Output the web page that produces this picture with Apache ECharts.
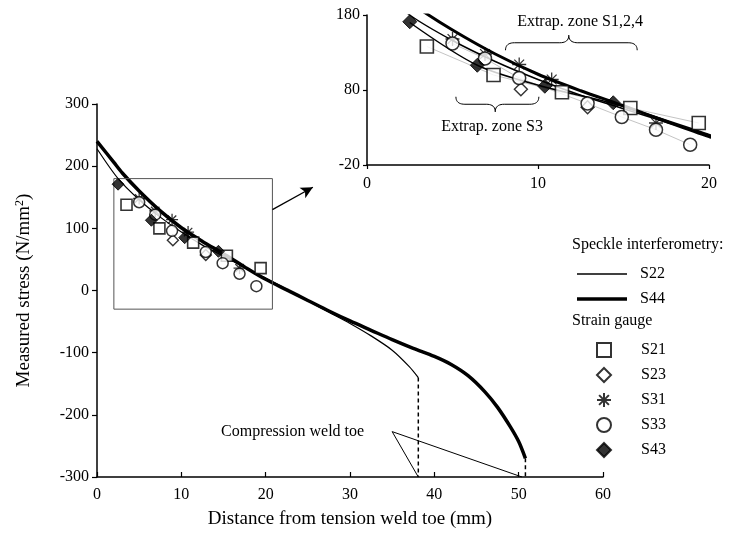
<!DOCTYPE html>
<html>
<head>
<meta charset="utf-8">
<script src="https://cdn.jsdelivr.net/npm/echarts@6/dist/echarts.min.js"></script>
<style>
html, body { margin: 0; padding: 0; background: #fff; }
#chart { width: 737px; height: 541px; }
</style>
</head>
<body>
<div id="chart"></div>
<script>
// speckle interferometry curves [x mm, stress N/mm2]
var s44 = [[0, 240], [2, 206], [3, 189], [5, 160], [7.5, 128], [10, 101], [12.5, 79], [15, 59], [17.5, 38], [20, 18],
    [22.5, 1], [25, -16], [27.5, -33], [30, -49], [32.5, -64], [35, -79], [37.5, -93], [40, -106], [42, -119],
    [44, -137], [46, -163], [47.5, -188], [49, -219], [50, -243], [50.8, -270]];
var s22 = [[0, 228], [2.5, 180], [5, 146], [7.5, 118], [10, 94], [12.5, 73], [15, 55], [17.5, 37], [20, 20],
    [22.5, 2], [25, -17], [27.5, -35], [30, -53], [32.5, -73], [35, -96], [37, -122], [38.1, -140]];

// strain gauges
var s21 = [[3.5, 138], [7.4, 100], [11.4, 77], [15.4, 56], [19.4, 36]];
var s23 = [[9.0, 81], [12.9, 57]];
var s31 = [[5.0, 148], [6.9, 128], [8.9, 114], [10.8, 94], [16.9, 36]];
var s33 = [[5.0, 142], [6.9, 122], [8.9, 96], [12.9, 62], [14.9, 44], [16.9, 27], [18.9, 7]];
var s43 = [[2.5, 171], [6.45, 113], [10.4, 85], [14.4, 63]];
// fitted line through S43 shown in the zoomed plot
var s43Fit = [[2.5, 170], [6.45, 113], [10.4, 84], [14.4, 62], [20.1, 20]];

// annotations
var weldToe22 = [[38.1, -140], [38.1, -300]];
var weldToe44 = [[50.8, -270], [50.8, -300]];
var toeLeader = [[38.1, -300], [35, -227], [50.4, -300]];
var zoomBox = [[2, -30], [20.8, -30], [20.8, 180], [2, 180], [2, -30]];
var arrowFrom = [20.8, 130];
var arrowTo = [25.6, 166];

var mainXTicks = { min: 0, max: 60, step: 10 };
var mainYTicks = { min: -300, max: 300, step: 100 };
var insetYTicks = [-20, 80, 180];
var insetXTicks = [0, 10, 20];

var FONT = 'Liberation Serif';
var chart = echarts.init(document.getElementById('chart'));

function axisBase(extra) {
    var a = {
        type: 'value',
        axisLine: { onZero: false, lineStyle: { color: '#000', width: 1.5 } },
        axisTick: { lineStyle: { color: '#000', width: 1.2 }, length: 5 },
        axisLabel: { color: '#000', fontFamily: FONT, fontSize: 16 },
        splitLine: { show: false }
    };
    return Object.assign(a, extra);
}

var asterisk = 'path://M10 0 L10 20 M0 10 L20 10 M3 3 L17 17 M3 17 L17 3';
var gaugeStyles = {
    S21: { symbol: 'rect', itemStyle: { color: '#fff', borderColor: '#000', borderWidth: 1.6 }, size: 12 },
    S23: { symbol: 'diamond', itemStyle: { color: '#fff', borderColor: '#000', borderWidth: 1.4 }, size: 12 },
    S31: { symbol: asterisk, itemStyle: { color: 'rgba(0,0,0,0)', borderColor: '#000', borderWidth: 1.3 }, size: 13 },
    S33: { symbol: 'circle', itemStyle: { color: '#fff', borderColor: '#000', borderWidth: 1.5 }, size: 12 },
    S43: { symbol: 'diamond', itemStyle: { color: '#000', borderColor: '#000', borderWidth: 1 }, size: 13 }
};
var gaugeData = { S21: s21, S23: s23, S31: s31, S33: s33, S43: s43 };

function gaugeSeries(name, gi) {
    var st = gaugeStyles[name];
    return {
        name: name, type: 'scatter', xAxisIndex: gi, yAxisIndex: gi,
        data: gaugeData[name], symbol: st.symbol, symbolSize: gi ? st.size + 1 : st.size - 1,
        itemStyle: st.itemStyle, z: 5, silent: true
    };
}

function plainLine(data, gi, width, color, extra) {
    return Object.assign({
        type: 'line', xAxisIndex: gi, yAxisIndex: gi, data: data, symbol: 'none',
        lineStyle: { color: color, width: width }, itemStyle: { color: color }, z: 3, silent: true
    }, extra || {});
}

var series = [
    // main plot
    plainLine(s22, 0, 1.2, '#000', { name: 'S22', smooth: 0.3 }),
    plainLine(s44, 0, 3.5, '#000', { name: 'S44', smooth: 0.3 }),
    plainLine(weldToe22, 0, 1.5, '#000', { lineStyle: { color: '#000', width: 1.5, type: [4, 3] } }),
    plainLine(weldToe44, 0, 1.5, '#000', { lineStyle: { color: '#000', width: 1.5, type: [4, 3] } }),
    plainLine(toeLeader, 0, 1, '#000'),
    plainLine(zoomBox, 0, 1, '#555', {
        markLine: {
            silent: true, symbol: ['none', 'arrow'], symbolSize: [9, 12],
            lineStyle: { color: '#000', width: 1.3, type: 'solid' },
            label: { show: false },
            data: [[{ coord: arrowFrom }, { coord: arrowTo }]]
        }
    }),
    // zoomed plot
    plainLine(s21, 1, 1, '#c4c4c4', { z: 2 }),
    plainLine(s33, 1, 1, '#c4c4c4', { z: 2 }),
    plainLine(s43Fit, 1, 1.5, '#000', { smooth: 0.3 }),
    plainLine(s22, 1, 1.5, '#000', { name: 'S22', smooth: 0.3 }),
    plainLine(s44, 1, 3, '#000', { name: 'S44', smooth: 0.3 })
];
['S21', 'S23', 'S31', 'S33', 'S43'].forEach(function (n) {
    series.push(gaugeSeries(n, 0));
    series.push(gaugeSeries(n, 1));
});

function lineLegend(name, top, thickness) {
    return {
        data: [{ name: name, icon: 'rect' }], orient: 'vertical', left: 572, top: top,
        itemWidth: 50, itemHeight: thickness, selectedMode: false,
        textStyle: { color: '#000', fontFamily: FONT, fontSize: 16, lineHeight: 16, padding: [0, 0, 0, 8] }
    };
}

var option = {
    backgroundColor: '#fff',
    animation: false,
    grid: [
        { left: 97, top: 104, width: 506, height: 373 },
        { left: 367, top: 15, width: 342, height: 150 }
    ],
    xAxis: [
        axisBase({
            gridIndex: 0, min: mainXTicks.min, max: mainXTicks.max, interval: mainXTicks.step,
            name: 'Distance from tension weld toe (mm)', nameLocation: 'middle', nameGap: 33,
            nameTextStyle: { color: '#000', fontFamily: FONT, fontSize: 19 },
            axisTick: { inside: true, length: 5, lineStyle: { color: '#000', width: 1.2 } },
            axisLabel: { color: '#000', fontFamily: FONT, fontSize: 16, margin: 10 }
        }),
        axisBase({
            gridIndex: 1, min: 0, max: 20,
            axisTick: { customValues: insetXTicks, length: 4, lineStyle: { color: '#000', width: 1.2 } },
            axisLabel: { customValues: insetXTicks, color: '#000', fontFamily: FONT, fontSize: 16, margin: 11 }
        })
    ],
    yAxis: [
        axisBase({
            gridIndex: 0, min: mainYTicks.min, max: mainYTicks.max, interval: mainYTicks.step,
            name: 'Measured stress (N/mm{sup|2})', nameLocation: 'middle', nameGap: 62,
            nameTextStyle: { color: '#000', fontFamily: FONT, fontSize: 19,
                rich: { sup: { fontFamily: FONT, fontSize: 12, verticalAlign: 'top', padding: [0, 0, 9, 0], color: '#000' } } },
            axisLabel: { color: '#000', fontFamily: FONT, fontSize: 16, margin: 8 }
        }),
        axisBase({
            gridIndex: 1, min: -20, max: 180,
            axisTick: { customValues: insetYTicks, length: 4, lineStyle: { color: '#000', width: 1.2 } },
            axisLabel: { customValues: insetYTicks, color: '#000', fontFamily: FONT, fontSize: 16, margin: 7 }
        })
    ],
    legend: [
        lineLegend('S22', 261, 1.3),
        lineLegend('S44', 286, 3.5),
        {
            data: ['S21', 'S23', 'S31', 'S33', 'S43'], orient: 'vertical', left: 591, top: 337,
            itemWidth: 14, itemHeight: 14, itemGap: 9, selectedMode: false,
            textStyle: { color: '#000', fontFamily: FONT, fontSize: 16, lineHeight: 16, padding: [0, 0, 0, 25] }
        }
    ],
    series: series
};
chart.setOption(option);

// braces and text annotations
function px(p, gi) { return chart.convertToPixel({ gridIndex: gi || 0 }, p); }
function quad(pts, a, c, b) {
    for (var t = 0.1; t <= 1.0001; t += 0.1) {
        var u = 1 - t;
        pts.push([u * u * a[0] + 2 * u * t * c[0] + t * t * b[0], u * u * a[1] + 2 * u * t * c[1] + t * t * b[1]]);
    }
}
function brace(x1, x2, xm, yEnd, yLevel, yTip) {
    var a = px([x1, yEnd], 1), b = px([x2, yEnd], 1), m = px([xm, yTip], 1);
    var ly = px([x1, yLevel], 1)[1];
    var r = 9;
    var pts = [a];
    quad(pts, a, [a[0], ly], [a[0] + r, ly]);
    pts.push([m[0] - r, ly]);
    quad(pts, [m[0] - r, ly], [m[0], ly], m);
    quad(pts, m, [m[0], ly], [m[0] + r, ly]);
    pts.push([b[0] - r, ly]);
    quad(pts, [b[0] - r, ly], [b[0], ly], b);
    return { type: 'polyline', shape: { points: pts }, style: { stroke: '#000', lineWidth: 1, fill: null }, silent: true };
}
function txt(text, x, y, align) {
    return { type: 'text', x: x, y: y, silent: true, z: 10,
        style: { text: text, fill: '#000', fontFamily: FONT, fontSize: 16, align: align || 'left', verticalAlign: 'middle' } };
}
var apex = px(toeLeader[1], 0);
chart.setOption({
    graphic: [
        brace(8.1, 15.8, 11.8, 133, 143, 153),
        brace(5.2, 10.05, 7.5, 71, 61, 51),
        txt('Extrap. zone S1,2,4', 580, 22, 'center'),
        txt('Extrap. zone S3', 492, 127, 'center'),
        txt('Speckle interferometry:', 572, 245),
        txt('Strain gauge', 572, 321),
        txt('Compression weld toe', apex[0] - 28, apex[1], 'right')
    ]
});
</script>
</body>
</html>
